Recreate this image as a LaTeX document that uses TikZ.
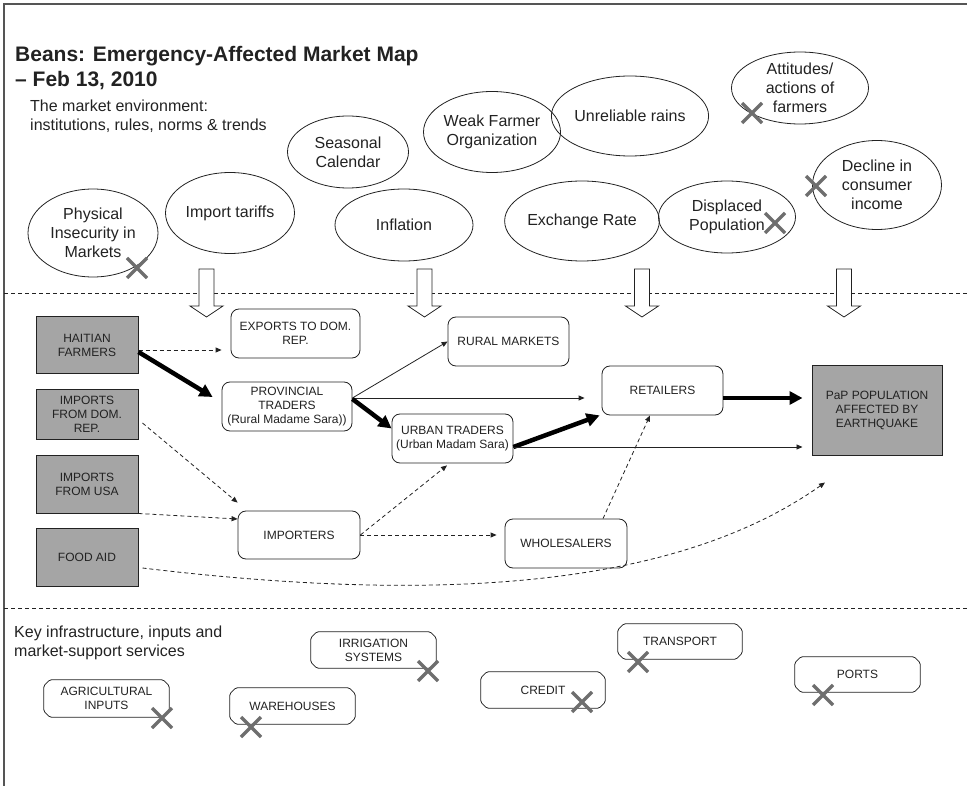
\documentclass[tikz,border=0pt]{standalone}
\usepackage{fontspec}
\setmainfont{Liberation Sans}
\usetikzlibrary{shapes.geometric,arrows.meta}
\definecolor{ink}{HTML}{222222}
\definecolor{boxgray}{HTML}{A5A5A5}
\definecolor{xgray}{HTML}{6E6E6E}
\definecolor{framegray}{HTML}{555555}
\begin{document}
\begin{tikzpicture}[x=1pt,y=-1pt,
  every node/.style={text=ink},
  title/.style={inner sep=0pt,font=\fontsize{21}{25}\selectfont\bfseries},
  lab/.style={inner sep=0pt,font=\fontsize{16}{19}\selectfont},
  env/.style={ellipse,draw=ink,line width=0.8pt,inner sep=0pt,align=center,font=\fontsize{16}{19}\selectfont},
  actor/.style={rectangle,draw=ink,fill=boxgray,line width=1pt,inner sep=0pt,align=center,font=\fontsize{12}{14}\selectfont},
  trader/.style={rectangle,rounded corners=8pt,draw=ink,fill=white,line width=0.8pt,inner sep=0pt,align=center,font=\fontsize{12}{14}\selectfont},
  service/.style={rectangle,inner sep=0pt,align=center,font=\fontsize{12}{14}\selectfont},
  svcline/.style={draw=ink,line width=0.8pt,rounded corners=1.5pt},
  divider/.style={draw=ink,line width=0.8pt,dash pattern=on 4pt off 3pt},
  flow/.style={-{Triangle[length=6pt,width=5pt]},draw=ink,line width=0.8pt},
  dflow/.style={flow,dash pattern=on 4pt off 3pt},
  mainflow/.style={-{Triangle[length=13pt,width=13pt]},draw=black,line width=4.5pt},
  xmk/.style={draw=xgray,line width=3.5pt},
  blockarrow/.style={draw=ink,fill=white,line width=0.8pt,line join=miter},
  crossmark/.pic={\draw[xmk] (-10,-10) -- (10,10) (-10,10) -- (10,-10);},
  downarrow/.pic={\draw[blockarrow] (-7.5,0) -- (-7.5,37) -- (-16.5,37) -- (0,48) -- (16.5,37) -- (7.5,37) -- (7.5,0) -- cycle;}
]
\useasboundingbox (0,0) rectangle (967,786);
% frame
\draw[framegray,line width=1.5pt] (4,786) -- (4,4) -- (967,4);

% titles
\node[title,anchor=base west] (t1) at (15,62) {Beans: Emergency-Affected Market Map};
\node[title,anchor=base west] (t2) at (15,87) {– Feb 13, 2010};
\node[lab,anchor=base west] (e1) at (30,112) {The market environment:};
\node[lab,anchor=base west] (e2) at (30,131) {institutions, rules, norms \& trends};

% environment ellipses
\node[env,minimum width=130pt,minimum height=88pt] (phys) at (93,233) {Physical\\Insecurity in\\Markets};
\node[env,minimum width=129pt,minimum height=81pt] (tariff) at (230,213) {Import tariffs};
\node[env,minimum width=121pt,minimum height=72pt] (season) at (348,152) {Seasonal\\Calendar};
\node[env,minimum width=138pt,minimum height=72pt] (infl) at (404,225) {Inflation};
\node[env,minimum width=137pt,minimum height=81pt] (weak) at (492,132) {Weak Farmer\\Organization};
\node[env,minimum width=137pt,minimum height=80pt] (rain) at (630,116) {Unreliable rains};
\node[env,minimum width=122pt,minimum height=80pt] (exch) at (582,221) {Exchange Rate};
\node[env,minimum width=137pt,minimum height=72pt] (displ) at (727,217) {Displaced\\Population};
\node[env,minimum width=137pt,minimum height=72pt] (att) at (800,88) {Attitudes/\\actions of\\farmers};
\node[env,minimum width=129pt,minimum height=89pt] (decl) at (877,185) {Decline in\\consumer\\income};

% dividers
\draw[divider] (4,293) -- (967,293);
\draw[divider] (4,608) -- (967,608);

% block arrows
\pic at (206.5,269) {downarrow};
\pic at (424.5,269) {downarrow};
\pic at (642,269) {downarrow};
\pic at (844,269) {downarrow};

% market chain actors
\node[actor,minimum width=102pt,minimum height=57pt] (hf) at (87,345.5) {HAITIAN\\FARMERS};
\node[actor,minimum width=102pt,minimum height=49pt] (idr) at (87,414.5) {IMPORTS\\FROM DOM.\\REP.};
\node[actor,minimum width=102pt,minimum height=58pt] (iusa) at (87,484) {IMPORTS\\FROM USA};
\node[actor,minimum width=102pt,minimum height=58pt] (fa) at (87,557) {FOOD AID};
\node[actor,minimum width=130pt,minimum height=89pt] (pap) at (877,410.5) {PaP POPULATION\\AFFECTED BY\\EARTHQUAKE};

\node[trader,minimum width=129pt,minimum height=49pt] (exp) at (295.5,333.5) {EXPORTS TO DOM.\\REP.};
\node[trader,minimum width=130pt,minimum height=49pt] (pt) at (287,406.5) {PROVINCIAL\\TRADERS\\(Rural Madame Sara))};
\node[trader,minimum width=121pt,minimum height=49pt] (rm) at (508.5,341.5) {RURAL MARKETS};
\node[trader,minimum width=121pt,minimum height=49pt] (ut) at (452.5,438.5) {URBAN TRADERS\\(Urban Madam Sara)};
\node[trader,minimum width=121pt,minimum height=49pt] (ret) at (662.5,390.5) {RETAILERS};
\node[trader,minimum width=122pt,minimum height=48pt] (imp) at (299,535) {IMPORTERS};
\node[trader,minimum width=122pt,minimum height=49pt] (ws) at (566,543.5) {WHOLESALERS};

% flows
\draw[dflow] ([yshift=-4.5pt]hf.east) -- ([xshift=-9pt,yshift=-16.5pt]exp.west);
\draw[mainflow] ([yshift=-6.5pt]hf.east) -- ([xshift=-9pt,yshift=9.5pt]pt.west);
\draw[flow] ([yshift=8.5pt]pt.east) -- (rm.west);
\draw[flow] ([yshift=8.5pt]pt.east) -- ([xshift=-17pt,yshift=-7.5pt]ret.west);
\draw[mainflow] ([yshift=7.5pt]pt.east) -- ([yshift=10pt]ut.west);
\draw[mainflow] ([yshift=-8.5pt]ut.east) -- ([xshift=-2pt]ret.south west);
\draw[flow] ([yshift=-8.5pt]ut.east) -- ([xshift=-9pt,yshift=-36.5pt]pap.west);
\draw[mainflow] ([yshift=-7.5pt]ret.east) -- ([xshift=-9pt,yshift=12.5pt]pap.west);
\draw[dflow] ([xshift=4pt,yshift=-8.5pt]idr.east) -- ([yshift=8pt]imp.north west);
\draw[dflow] (iusa.south east) -- ([yshift=16pt]imp.west);
\draw[dflow] (imp.east) -- ([xshift=-5.5pt,yshift=-2pt]ut.south);
\draw[dflow] (imp.east) -- ([xshift=-8pt,yshift=8.5pt]ws.west);
\draw[dflow] ([xshift=37pt]ws.north) -- ([xshift=-12.5pt]ret.south);
\draw[dflow] ([xshift=4pt,yshift=-11pt]fa.east) .. controls (450,605) and (680,585) .. ([xshift=-52pt,yshift=-27pt]pap.south);

% key infrastructure
\node[lab,anchor=base west] (k1) at (14,637) {Key infrastructure, inputs and};
\node[lab,anchor=base west] (k2) at (14,656) {market-support services};

\node[service,minimum width=125pt,minimum height=37pt] (ag) at (106.5,698.5) {AGRICULTURAL\\INPUTS};
\node[service,minimum width=125pt,minimum height=36pt] (wh) at (292.5,706) {WAREHOUSES};
\node[service,minimum width=125pt,minimum height=36pt] (ir) at (373.5,650) {IRRIGATION\\SYSTEMS};
\node[service,minimum width=124pt,minimum height=36pt] (cr) at (543,690) {CREDIT};
\node[service,minimum width=124pt,minimum height=35pt] (tr) at (680,641.5) {TRANSPORT};
\node[service,minimum width=125pt,minimum height=35pt] (po) at (857.5,674.5) {PORTS};
\foreach \n in {ag,wh,ir,cr,tr,po}{
  \draw[svcline] ([xshift=6pt]\n.north west) -- ([xshift=-6pt]\n.north east) -- ([yshift=-6pt]\n.north east) -- ([yshift=6pt]\n.south east) -- ([xshift=-6pt]\n.south east) -- ([xshift=6pt]\n.south west) -- ([yshift=6pt]\n.south west) -- ([yshift=-6pt]\n.north west) -- cycle;
}

% cross marks
\pic at (137,268) {crossmark};
\pic at (752,113) {crossmark};
\pic at (775,223) {crossmark};
\pic at (816,186) {crossmark};
\pic at (162,718) {crossmark};
\pic at (251,727) {crossmark};
\pic at (428,671) {crossmark};
\pic at (582,702) {crossmark};
\pic at (638,662) {crossmark};
\pic at (823,695) {crossmark};
\end{tikzpicture}
\end{document}
